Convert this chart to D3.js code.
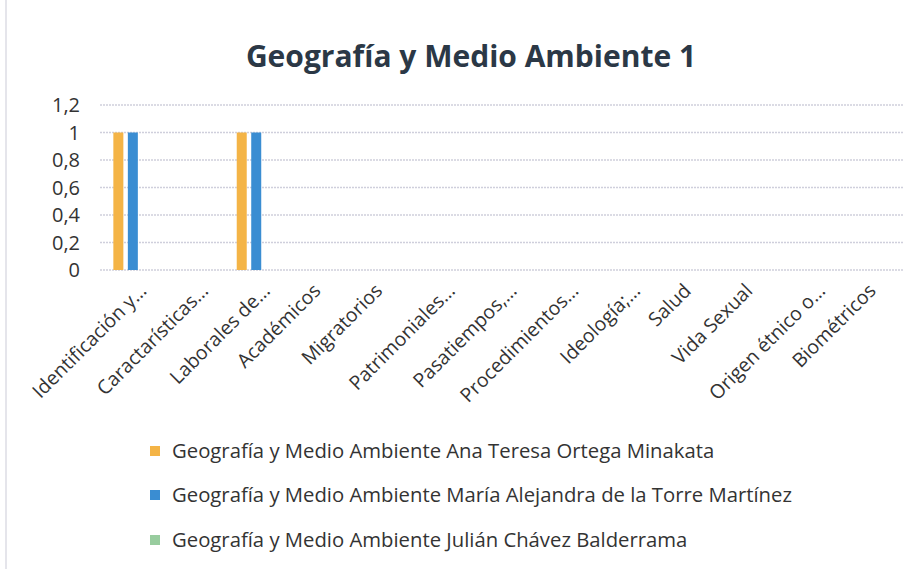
<!DOCTYPE html>
<html><head><meta charset="utf-8">
<script src="https://cdn.jsdelivr.net/npm/d3@7"></script>
<style>body{margin:0;background:#fff;} svg{display:block;}</style>
</head><body>
<script>
const categories = ["Identificación y…","Caractarísticas…","Laborales de…","Académicos","Migratorios","Patrimoniales…","Pasatiempos,…","Procedimientos…","Ideología;…","Salud","Vida Sexual","Origen étnico o…","Biométricos"];
const seriesNames = ["Geografía y Medio Ambiente Ana Teresa Ortega Minakata","Geografía y Medio Ambiente María Alejandra de la Torre Martínez","Geografía y Medio Ambiente Julián Chávez Balderrama"];
const anaValues    = [1,0,1,0,0,0,0,0,0,0,0,0,0];
const mariaValues  = [1,0,1,0,0,0,0,0,0,0,0,0,0];
const julianValues = [0,0,0,0,0,0,0,0,0,0,0,0,0];
const yTicks = [0,0.2,0.4,0.6,0.8,1,1.2];
const title = "Geografía y Medio Ambiente 1";
const colors = ["#f4b446","#3a8dd2","#98cc9e"];

const W=915,H=569;
const svg=d3.select("body").append("svg").attr("width",W).attr("height",H);
svg.append("rect").attr("width",W).attr("height",H).attr("fill","#fff");
svg.append("line").attr("x1",6).attr("x2",6).attr("y1",0).attr("y2",H).attr("stroke","#dcdce4").attr("stroke-width",1.5);

const font="'Open Sans', Lato, sans-serif";
const txt="#333333";

const x=d3.scaleBand().domain(categories).range([102,904]);
const y=d3.scaleLinear().domain([0,1.2]).range([270,105]);
const x1=d3.scaleBand().domain(d3.range(3)).range([-19.5,19.5]).paddingInner(0.31);

// gridlines
svg.append("g").selectAll("line").data(yTicks).join("line")
  .attr("x1",100).attr("x2",903).attr("y1",d=>y(d)).attr("y2",d=>y(d))
  .attr("stroke","#cfcfdc").attr("stroke-width",1.6).attr("stroke-dasharray","2,1");

// y labels
const fmt=d=>String(d).replace(".",",");
svg.append("g").selectAll("text").data(yTicks).join("text")
  .attr("x",80).attr("y",d=>y(d)).attr("dy","0.36em").attr("text-anchor","end")
  .attr("font-family",font).attr("font-size",20).attr("fill",txt).text(fmt);

// bars
const series=[anaValues,mariaValues,julianValues];
series.forEach((vals,si)=>{
  svg.append("g").selectAll("rect").data(vals.map((v,i)=>({v,c:categories[i]}))).join("rect")
    .attr("x",d=>x(d.c)+x.bandwidth()/2+x1(si))
    .attr("width",x1.bandwidth())
    .attr("y",d=>y(d.v)).attr("height",d=>y(0)-y(d.v))
    .attr("fill",colors[si]);
});

// x labels
svg.append("g").selectAll("text").data(categories).join("text")
  .attr("transform",d=>{
    const cx=x(d)+x.bandwidth()/2+(d.endsWith("…")?15:4);
    return `translate(${cx},292) rotate(-45)`;})
  .attr("text-anchor","end")
  .attr("font-family",font).attr("font-size",19.5).attr("fill",txt).text(d=>d);

// title
svg.append("text").attr("x",471).attr("y",67).attr("text-anchor","middle")
  .attr("font-family",font).attr("font-weight","bold").attr("font-size",30).attr("fill","#2b3846").text(title);

// legend
const lg=svg.append("g").selectAll("g").data(seriesNames).join("g")
  .attr("transform",(d,i)=>`translate(150,${[451,495,540][i]})`);
lg.append("rect").attr("x",0).attr("y",-5).attr("width",10).attr("height",10).attr("fill",(d,i)=>colors[i]);
lg.append("text").attr("x",22).attr("y",0).attr("dy","0.35em")
  .attr("font-family",font).attr("font-size",20.3).attr("fill",txt).text(d=>d);
</script>
</body></html>
